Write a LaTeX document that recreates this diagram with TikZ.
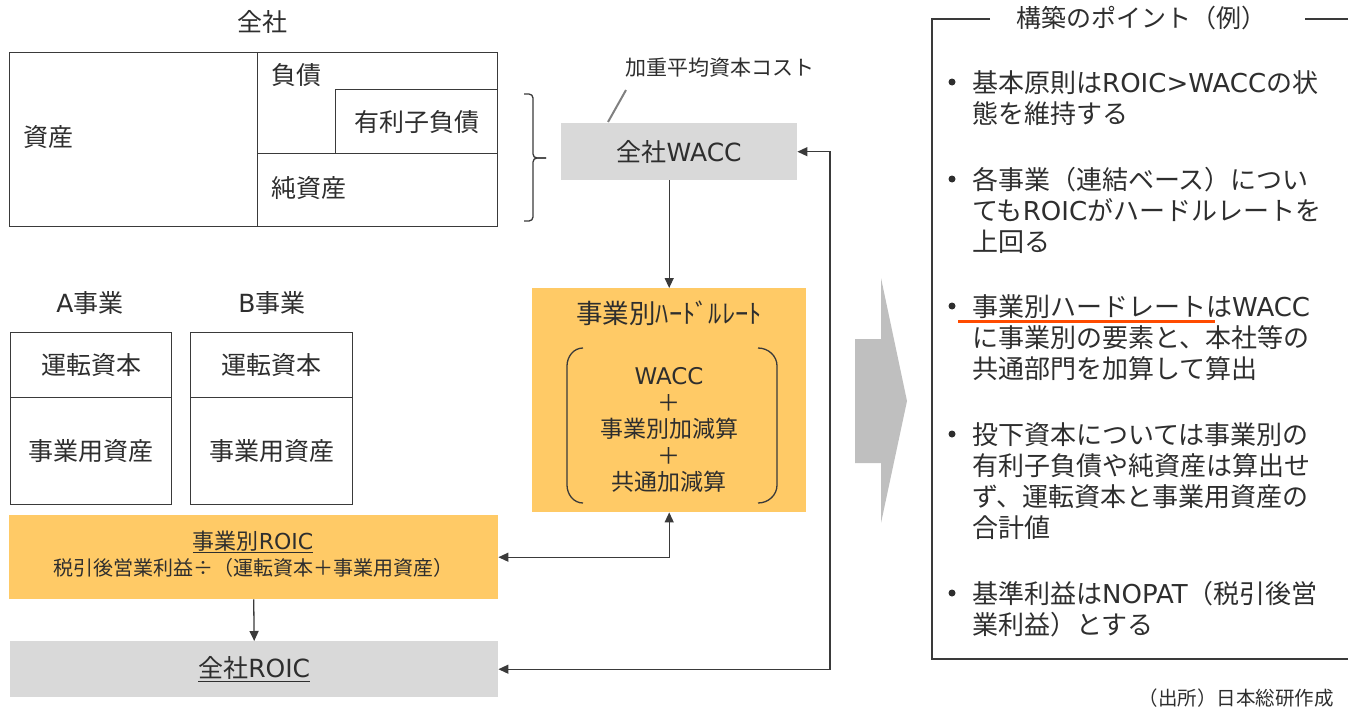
\documentclass[tikz,border=0pt]{standalone}
\usepackage{fontspec}
\setmainfont{Noto Sans CJK JP}
\newfontfamily\latfont{DejaVu Sans}
\usetikzlibrary{arrows.meta}
\definecolor{textc}{HTML}{2E2E2E}
\definecolor{linec}{HTML}{3A3A3A}
\definecolor{grayfill}{HTML}{D9D9D9}
\definecolor{yellowfill}{HTML}{FFCA66}
\definecolor{arrowgray}{HTML}{BFBFBF}
\definecolor{orangeline}{HTML}{FF4B00}
\definecolor{leadgray}{HTML}{808080}
\newcommand\latn[1]{{\latfont #1}}
\newcommand\fs[2]{\fontsize{#1}{#2}\selectfont}
\begin{document}
\begin{tikzpicture}[x=1pt,y=-1pt,
  rbox/.style={draw=linec,line width=1.3pt,inner sep=0,anchor=north west,text=textc,font=\fs{25}{30}},
  gbox/.style={fill=grayfill,inner sep=0,anchor=north west,text=textc,font=\fs{25}{30}},
  ybox/.style={fill=yellowfill,inner sep=0,anchor=north west},
  lbl/.style={inner sep=0,text=textc,font=\fs{25}{30}},
  bl/.style={inner sep=0,text=textc,font=\fs{26}{31},anchor=base west},
  dot/.style={circle,fill=textc,inner sep=0,minimum size=7pt},
  ln/.style={draw=linec,line width=1.3pt},
  arr/.style={ln,-{Triangle[length=10pt,width=9pt]}},
  darr/.style={ln,{Triangle[length=10pt,width=9pt]}-{Triangle[length=10pt,width=9pt]}},
  ]
\useasboundingbox (0,0) rectangle (1348,707);

% --- company balance sheet ---
\node[lbl] (ttl) at (262,22) {全社};
\node[rbox,minimum width=488,minimum height=174] (bs) at (9,52) {};
\node[rbox,minimum width=240,minimum height=101] (liab) at (257,52) {};
\node[rbox,minimum width=162,minimum height=64] (ibd) at (335,89) {有利子負債};
\node[rbox,minimum width=240,minimum height=73] (eq) at (257,153) {};
\node[lbl,anchor=west] (tAsset) at (23,137) {資産};
\node[lbl,anchor=west] (tLiab) at (271,75) {負債};
\node[lbl,anchor=west] (tEq) at (271,188) {純資産};

% brace
\draw[ln,rounded corners=4pt] (524,94) -- (533,94) -- (533,158) -- (546,158);
\draw[ln,rounded corners=4pt] (546,158) -- (533,158) -- (533,221) -- (524,221);

% --- WACC ---
\node[lbl,font=\fs{21}{25}] (wlab) at (720,68) {加重平均資本コスト};
\coordinate (lead1) at (626,90);
\coordinate (lead2) at (608,122);
\draw[leadgray,line width=2pt] (lead1) -- (lead2);
\node[gbox,minimum width=236,minimum height=57] (wacc) at (561,123) {全社\latn{WACC}};

% --- hurdle rate ---
\node[ybox,minimum width=274,minimum height=224] (hurdle) at (532,288) {};
\node[lbl,font=\fs{26.5}{30}] (tHurdle) at (669,313) {事業別ﾊｰﾄﾞﾙﾚｰﾄ};
\node[lbl,font=\fs{23}{26.5},align=center] (tFormula) at (669,430) {\latn{WACC}\\＋\\事業別加減算\\＋\\共通加減算};
\draw[ln] (583,348) to[out=180,in=90] (567,366) -- (567,485) to[out=-90,in=180] (583,503);
\draw[ln] (758,348) to[out=0,in=90] (777,366) -- (777,485) to[out=-90,in=0] (758,503);

% --- business units ---
\node[lbl] (tA) at (90,303) {\latn{A}事業};
\node[lbl] (tB) at (272,303) {\latn{B}事業};
\node[rbox,minimum width=161,minimum height=65] (aw) at (10,332) {運転資本};
\node[rbox,minimum width=161,minimum height=107] (ao) at (10,397) {事業用資産};
\node[rbox,minimum width=162,minimum height=65] (bw) at (190,332) {運転資本};
\node[rbox,minimum width=162,minimum height=107] (bo) at (190,397) {事業用資産};

% --- ROIC ---
\node[ybox,minimum width=489,minimum height=84] (roic) at (9,515) {};
\node[lbl,font=\fs{22}{26}] (tRoic) at (253,542) {\underline{事業別\latn{ROIC}}};
\node[lbl,font=\fs{20}{24}] (tRoic2) at (253,568) {税引後営業利益÷（運転資本＋事業用資産）};
\node[gbox,minimum width=488,minimum height=56] (zroic) at (10,641) {\underline{全社\latn{ROIC}}};

% --- connectors ---
\draw[arr] (wacc.south -| hurdle.north) -- (hurdle.north);
\draw[darr] (roic.east) -| (hurdle.south);
\draw[arr] (roic.south) -- (zroic.north);
\coordinate (loop) at (830,400);
\draw[darr] (zroic.east) -| (loop) |- (wacc.east);

% --- big arrow ---
\fill[arrowgray] (855,339) -- (881,339) -- (881,278) -- (907,401) -- (881,523) -- (881,463) -- (855,463) -- cycle;

% --- points panel ---
\node[lbl] (ptitle) at (1141,18) {構築のポイント（例）};
\draw[ln] (990,19) -- (932,19) -- (932,659) -- (1348,659);
\draw[ln] (1305,19) -- (1348,19);

\node[dot] (d1) at (952,82) {};
\node[bl] (b1a) at (972,92) {基本原則は\latn{ROIC>WACC}の状};
\node[bl] (b1b) at (972,123) {態を維持する};

\node[dot] (d2) at (952,179) {};
\node[bl] (b2a) at (972,189) {各事業（連結ベース）につい};
\node[bl] (b2b) at (972,220) {ても\latn{ROIC}がハードルレートを};
\node[bl] (b2c) at (972,251) {上回る};

\node[dot] (d3) at (952,306) {};
\node[bl] (b3a) at (972,316) {事業別ハードレートは\latn{WACC}};
\node[bl] (b3b) at (972,347) {に事業別の要素と、本社等の};
\node[bl] (b3c) at (972,378) {共通部門を加算して算出};
\coordinate (ul1) at (958,321);
\coordinate (ul2) at (1215,321);
\draw[orangeline,line width=3pt] (ul1) -- (ul2);

\node[dot] (d4) at (952,434) {};
\node[bl] (b4a) at (972,444) {投下資本については事業別の};
\node[bl] (b4b) at (972,475) {有利子負債や純資産は算出せ};
\node[bl] (b4c) at (972,506) {ず、運転資本と事業用資産の};
\node[bl] (b4d) at (972,537) {合計値};

\node[dot] (d5) at (952,593) {};
\node[bl] (b5a) at (972,603) {基準利益は\latn{NOPAT}（税引後営};
\node[bl] (b5b) at (972,634) {業利益）とする};

\node[lbl,font=\fs{19.5}{23},anchor=east] (src) at (1334,698) {（出所）日本総研作成};
\end{tikzpicture}
\end{document}
